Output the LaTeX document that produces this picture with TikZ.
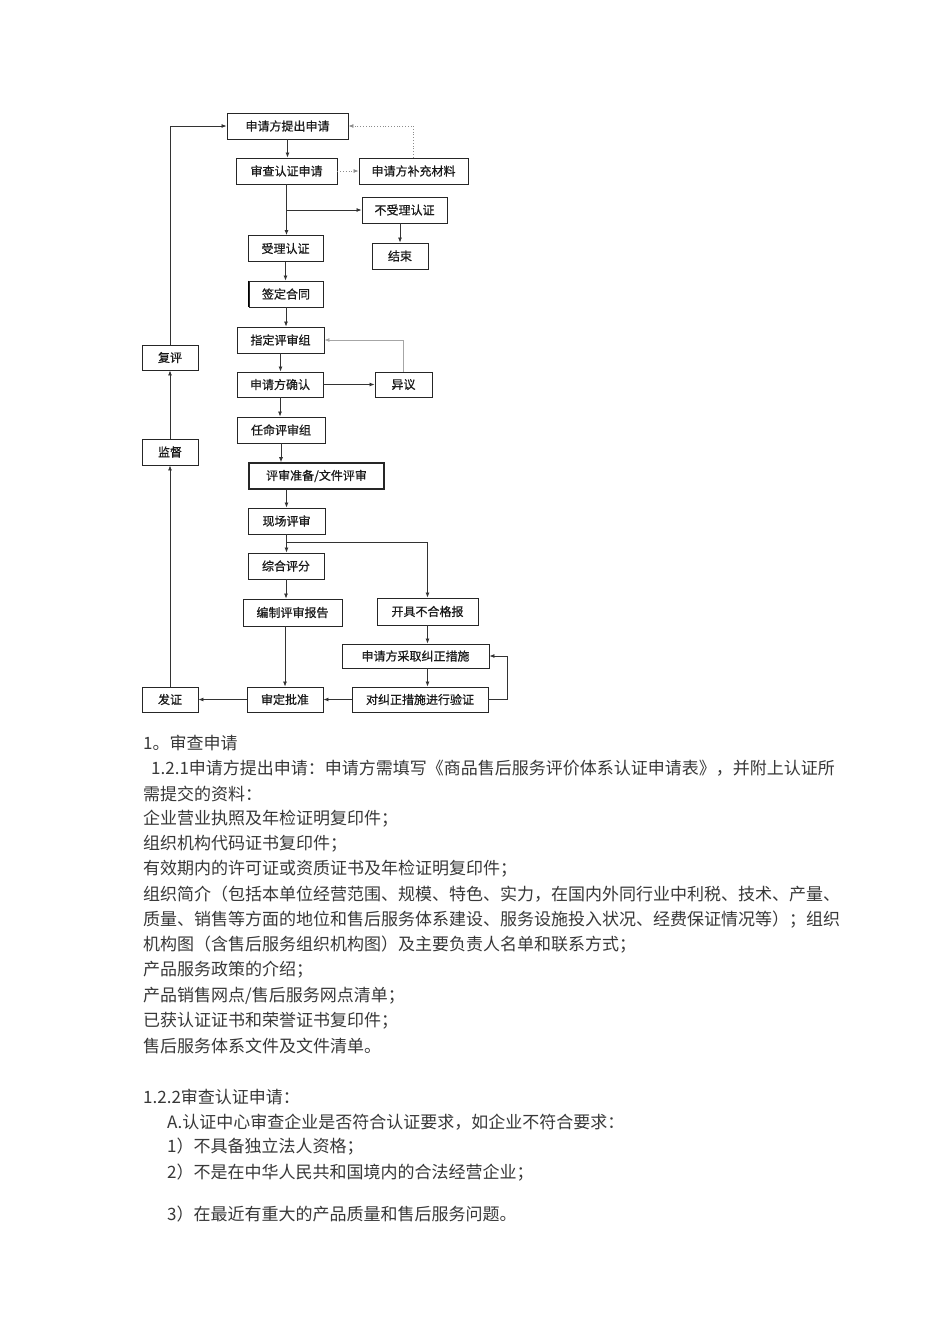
\documentclass[tikz,border=0pt]{standalone}
\usepackage{fontspec}
\setmainfont{Noto Sans CJK SC}
\newfontfamily\boxfont[FakeBold=0.6]{Noto Sans CJK SC}
\usetikzlibrary{arrows.meta}

\begin{document}
\begin{tikzpicture}[x=1pt, y=-1pt]

    % Styles
    \tikzstyle{stepbox} = [draw=black!85, line width=0.9pt, minimum height=26pt, inner sep=0pt, text=black!90, font=\boxfont\fontsize{12}{14}\selectfont]
    \tikzstyle{flow} = [draw=black!80, line width=0.8pt, -{Latex[length=5pt, width=4pt]}]
    \tikzstyle{hint} = [flow, draw=black!45, dotted]
    \tikzstyle{back} = [flow, draw=black!35]
    \tikzstyle{body} = [anchor=west, inner sep=0pt, text=black!78, font=\fontsize{17}{20}\selectfont]

    \useasboundingbox[fill=white] (0,0) rectangle (950,1344);

    % --- MAIN COLUMN ---
    \node[stepbox, minimum width=121pt] (apply) at (287.5, 126) {申请方提出申请};
    \node[stepbox, minimum width=101pt] (review) at (286.5, 171) {审查认证申请};
    \node[stepbox, minimum width=75pt] (accept) at (285.5, 248.5) {受理认证};
    \node[stepbox, minimum width=74pt] (contract) at (286, 294) {签定合同};
    \draw[line width=1.6pt] (contract.north west) -- (contract.south west); % heavy left edge
    \node[stepbox, minimum width=87pt] (team) at (280.5, 340) {指定评审组};
    \node[stepbox, minimum width=86pt, minimum height=25pt] (confirm) at (280, 384.5) {申请方确认};
    \node[stepbox, minimum width=88pt] (appoint) at (281, 430) {任命评审组};
    \node[stepbox, minimum width=135pt, line width=1.6pt] (prep) at (316.5, 476) {评审准备/文件评审};
    \node[stepbox, minimum width=77pt] (onsite) at (286.5, 521) {现场评审};
    \node[stepbox, minimum width=76pt] (score) at (286, 566) {综合评分};
    \node[stepbox, minimum width=99pt, minimum height=27pt] (report) at (292.5, 612.5) {编制评审报告};
    \node[stepbox, minimum width=76pt, minimum height=25pt] (approve) at (285, 699.5) {审定批准};

    % --- SIDE BRANCHES ---
    \node[stepbox, minimum width=109pt] (supply) at (413.5, 171) {申请方补充材料};
    \node[stepbox, minimum width=85pt] (reject) at (404.5, 210) {不受理认证};
    \node[stepbox, minimum width=56pt] (finish) at (400, 256) {结束};
    \node[stepbox, minimum width=57pt, minimum height=25pt] (objection) at (403.5, 384.5) {异议};
    \node[stepbox, minimum width=101pt, minimum height=27pt] (fail) at (427.5, 611.5) {开具不合格报};
    \node[stepbox, minimum width=147pt, minimum height=24pt] (correct) at (415.5, 656) {申请方采取纠正措施};
    \node[stepbox, minimum width=136pt, minimum height=25pt] (verify) at (420, 699.5) {对纠正措施进行验证};

    % --- LEFT COLUMN ---
    \node[stepbox, minimum width=56pt, minimum height=25pt] (issue) at (170, 699.5) {发证};
    \node[stepbox, minimum width=56pt] (supervise) at (170, 452) {监督};
    \node[stepbox, minimum width=56pt, minimum height=25pt] (recheck) at (170, 357.5) {复评};

    % --- CONNECTORS ---
    \draw[flow] (apply.south) -- (apply.south |- review.north);
    \draw[hint] (review.east) -- (supply.west);
    \draw[hint] (supply.north) |- (apply.east);
    \draw[flow] (review.south) -- (review.south |- accept.north);
    \coordinate (refuse) at (review.south |- reject.west);
    \draw[flow] (refuse) -- (reject.west);
    \draw[flow] (finish.north |- reject.south) -- (finish.north);
    \draw[flow] (accept.south) -- (accept.south |- contract.north);
    \draw[flow] (contract.south) -- (contract.south |- team.north);
    \draw[flow] (team.south) -- (team.south |- confirm.north);
    \draw[flow] (confirm.east) -- (objection.west);
    \draw[back] (objection.north) |- (team.east);
    \draw[flow] (confirm.south) -- (confirm.south |- appoint.north);
    \draw[flow] (appoint.south) -- (appoint.south |- prep.north);
    \draw[flow] (onsite.north |- prep.south) -- (onsite.north);
    \draw[flow] (onsite.south) -- (onsite.south |- score.north);
    \coordinate (split) at (286, 542);
    \draw[flow] (split) -| (fail.north);
    \draw[flow] (score.south) -- (score.south |- report.north);
    \draw[flow] (approve.north |- report.south) -- (approve.north);
    \draw[flow] (fail.south) -- (fail.south |- correct.north);
    \draw[flow] (correct.south -| fail) -- (verify.north -| fail);
    \draw[flow] (verify.east) -- ++(19, 0) |- (correct.east);
    \draw[flow] (verify.west) -- (approve.east);
    \draw[flow] (approve.west) -- (issue.east);
    \draw[flow] (issue.north) -- (supervise.south);
    \draw[flow] (supervise.north) -- (recheck.south);
    \draw[flow] (recheck.north) |- (apply.west);

    % --- TEXT BELOW ---
    \node[body] (sec1) at (143, 743) {1。审查申请};
    \node[body] (sec121) at (151, 768.5) {1.2.1申请方提出申请：申请方需填写《商品售后服务评价体系认证申请表》，并附上认证所};
    \node[body] (need) at (143, 793.5) {需提交的资料：};
    \node[body] (doc1) at (143, 819) {企业营业执照及年检证明复印件；};
    \node[body] (doc2) at (143, 844) {组织机构代码证书复印件；};
    \node[body] (doc3) at (143, 869) {有效期内的许可证或资质证书及年检证明复印件；};
    \node[body] (doc4) at (143, 894) {组织简介（包括本单位经营范围、规模、特色、实力，在国内外同行业中利税、技术、产量、};
    \node[body] (doc4b) at (143, 919.5) {质量、销售等方面的地位和售后服务体系建设、服务设施投入状况、经费保证情况等）；组织};
    \node[body] (doc4c) at (143, 945) {机构图（含售后服务组织机构图）及主要负责人名单和联系方式；};
    \node[body] (doc5) at (143, 970) {产品服务政策的介绍；};
    \node[body] (doc6) at (143, 995.5) {产品销售网点/售后服务网点清单；};
    \node[body] (doc7) at (143, 1021) {已获认证证书和荣誉证书复印件；};
    \node[body] (doc8) at (143, 1046) {售后服务体系文件及文件清单。};
    \node[body] (sec122) at (143, 1097) {1.2.2审查认证申请：};
    \node[body] (ruleA) at (167, 1122) {A.认证中心审查企业是否符合认证要求，如企业不符合要求：};
    \node[body] (rule1) at (167, 1147) {1）不具备独立法人资格；};
    \node[body] (rule2) at (167, 1173) {2）不是在中华人民共和国境内的合法经营企业；};
    \node[body] (rule3) at (167, 1214) {3）在最近有重大的产品质量和售后服务问题。};

\end{tikzpicture}
\end{document}
